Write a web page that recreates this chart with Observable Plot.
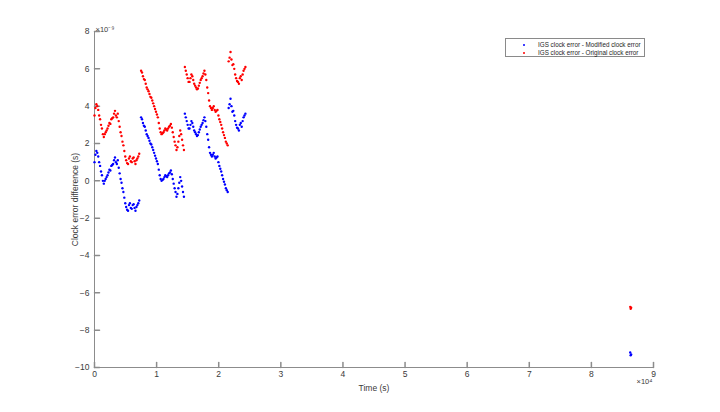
<!DOCTYPE html>
<html>
<head>
<meta charset="utf-8">
<script src="https://cdn.jsdelivr.net/npm/d3@7"></script>
<script src="https://cdn.jsdelivr.net/npm/@observablehq/plot@0.6"></script>
<style>
  html, body { margin: 0; padding: 0; background: #fff; }
  #wrap { position: relative; width: 720px; height: 412px; font-family: "Liberation Sans", Arial, sans-serif; }
  #legend { position: absolute; left: 505px; top: 38px; width: 140px; height: 19px; border: 1px solid #8a8a8a; background: #fff; font-size: 6.3px; color: #262626; box-sizing: border-box; }
  .row { position: absolute; left: 0; height: 8px; line-height: 8px; white-space: nowrap; }
  .dot { position: absolute; left: 17px; top: 3px; width: 2px; height: 2px; border-radius: 1px; }
  .lbl { position: absolute; left: 32px; top: 0; }
</style>
</head>
<body>
<div id="wrap">
  <div id="chart"></div>
  <div id="legend"></div>
</div>
<script>
// Epoch times (s)
const times = [
  0,150,300,450,600,750,900,1050,1200,1350,1500,1650,1800,1950,2100,2250,2400,2550,2700,2850,3000,3150,3300,3450,3600,3750,3900,4050,4200,4350,4500,4650,4800,4950,5100,5250,5400,5550,5700,5850,6000,6150,6300,6450,6600,6750,6900,7050,7200,
  7500,7650,7800,7950,8100,8250,8400,8550,8700,8850,9000,9150,9300,9450,9600,9750,9900,10050,10200,10350,10500,10650,10800,10950,11100,11250,11400,11550,11700,11850,12000,12150,12300,12450,12600,12750,12900,13050,13200,13350,13500,13650,13800,13950,14100,14250,14400,
  14550,14700,14850,15000,15150,15300,15450,15600,15750,15900,16050,16200,16350,16500,16650,16800,16950,17100,17250,17400,17550,17700,17850,18000,18150,18300,18450,18600,18750,18900,19050,19200,19350,19500,19650,19800,19950,20100,20250,20400,20550,20700,20850,21000,21150,21300,21450,
  21600,21750,21900,22050,22200,22350,22500,22650,22800,22950,23100,23250,23400,23550,23700,23850,24000,24150,24300,
  86250,86325,86400
];
// IGS clock error - Modified clock error (x1e-9 s)
const modifiedDiff = [
  1.0,1.4,1.6,1.5,1.3,1.0,0.8,0.5,0.3,0.0,-0.15,0.0,0.1,0.2,0.3,0.45,0.6,0.55,0.8,0.85,0.9,1.1,1.25,1.0,0.9,1.1,0.7,0.4,0.1,-0.1,-0.4,-0.6,-0.9,-1.2,-1.4,-1.55,-1.6,-1.3,-1.2,-1.45,-1.5,-1.3,-1.25,-1.45,-1.6,-1.4,-1.3,-1.2,-1.05,
  3.4,3.3,3.1,2.95,2.9,2.7,2.5,2.4,2.3,2.15,2.0,1.95,1.8,1.65,1.5,1.35,1.2,1.05,0.9,0.6,0.3,0.1,0.0,0.05,0.1,0.2,0.3,0.25,0.2,0.3,0.4,0.45,0.55,0.35,0.1,-0.15,-0.4,-0.6,-0.85,-0.7,-0.4,-0.1,0.2,0.0,-0.3,-0.6,-0.85,
  3.6,3.4,3.2,3.0,2.8,2.8,3.0,3.2,3.1,2.9,2.7,2.6,2.5,2.4,2.45,2.6,2.75,2.9,3.0,3.1,3.25,3.4,3.2,2.9,2.5,2.2,1.8,1.5,1.4,1.3,1.4,1.5,1.3,1.2,1.25,1.3,1.0,0.8,0.65,0.5,0.3,0.1,-0.05,-0.2,-0.4,-0.5,-0.6,
  3.9,4.1,4.4,4.0,3.7,3.75,3.5,3.2,3.0,2.85,2.8,2.7,3.0,3.1,2.9,3.2,3.4,3.5,3.6,
  -9.2,-9.35,-9.3
];
// IGS clock error - Original clock error (x1e-9 s)
const originalDiff = [
  3.5,3.9,4.1,4.0,3.8,3.5,3.3,3.0,2.8,2.5,2.35,2.5,2.6,2.7,2.8,2.95,3.1,3.05,3.3,3.35,3.4,3.6,3.75,3.5,3.4,3.6,3.2,2.9,2.6,2.4,2.1,1.9,1.6,1.3,1.1,0.95,0.9,1.2,1.3,1.05,1.0,1.2,1.25,1.05,0.9,1.1,1.2,1.3,1.45,
  5.9,5.8,5.6,5.45,5.4,5.2,5.0,4.9,4.8,4.65,4.5,4.45,4.3,4.15,4.0,3.85,3.7,3.55,3.4,3.1,2.8,2.6,2.5,2.55,2.6,2.7,2.8,2.75,2.7,2.8,2.9,2.95,3.05,2.85,2.6,2.35,2.1,1.9,1.65,1.8,2.1,2.4,2.7,2.5,2.2,1.9,1.65,
  6.1,5.9,5.7,5.5,5.3,5.3,5.5,5.7,5.6,5.4,5.2,5.1,5.0,4.9,4.95,5.1,5.25,5.4,5.5,5.6,5.75,5.9,5.7,5.4,5.0,4.7,4.3,4.0,3.9,3.8,3.9,4.0,3.8,3.7,3.75,3.8,3.5,3.3,3.15,3.0,2.8,2.6,2.45,2.3,2.1,2.0,1.9,
  6.4,6.6,6.9,6.5,6.2,6.25,6.0,5.7,5.5,5.35,5.3,5.2,5.5,5.6,5.4,5.7,5.9,6.0,6.1,
  -6.75,-6.85,-6.8
];
const seriesNames = ["IGS clock error - Modified clock error", "IGS clock error - Original clock error"];
const seriesColors = ["#0000ff", "#ff0000"];
const xTicks = [0,10000,20000,30000,40000,50000,60000,70000,80000,90000];
const xTickLabels = ["0","1","2","3","4","5","6","7","8","9"];
const yTicks = [-10,-8,-6,-4,-2,0,2,4,6,8];

const data = [];
times.forEach((t, i) => {
  data.push({t, v: modifiedDiff[i], s: seriesNames[0]});
  data.push({t, v: originalDiff[i], s: seriesNames[1]});
});

const axisColor = "#8c8c8c";
const textColor = "#3a3a3a";
const tickShape = {draw(c, l) { c.moveTo(0, 0); c.lineTo(0, -l); }};

const chart = Plot.plot({
  width: 720,
  height: 412,
  marginLeft: 94,
  marginRight: 67,
  marginTop: 31,
  marginBottom: 45,
  style: {fontFamily: "Liberation Sans, Arial, sans-serif", fontSize: "8.5px", color: textColor, background: "#fff"},
  x: {domain: [0, 90000]},
  y: {domain: [-10, 8]},
  color: {domain: seriesNames, range: seriesColors},
  marks: [
    Plot.ruleX([0], {stroke: axisColor}),
    Plot.ruleY([-10], {stroke: axisColor}),
    Plot.vector(xTicks, {x: d => d, frameAnchor: "bottom", length: 5, anchor: "start", rotate: 0, stroke: axisColor, shape: tickShape}),
    Plot.vector(yTicks, {y: d => d, frameAnchor: "left", length: 5, anchor: "start", rotate: 90, stroke: axisColor, shape: tickShape}),
    Plot.axisX({ticks: xTicks, tickFormat: (d, i) => xTickLabels[i], tickSize: 0, tickPadding: 3, label: "Time (s)", labelAnchor: "center", labelArrow: "none", labelOffset: 23, fill: textColor}),
    Plot.axisY({ticks: yTicks, tickSize: 0, tickPadding: 5, label: "Clock error difference (s)", labelAnchor: "center", labelArrow: "none", labelOffset: 23, fill: textColor}),
    Plot.dot(data, {x: "t", y: "v", fill: "s", r: 1.2, stroke: null}),
    Plot.text(["\u00d710\u207b\u2079"], {frameAnchor: "top-left", dx: 1, dy: -5, textAnchor: "start", fontSize: 7.5, fill: textColor}),
    Plot.text(["\u00d710\u2074"], {frameAnchor: "bottom-right", dx: -17, dy: 16, textAnchor: "start", fontSize: 7.5, fill: textColor})
  ]
});
document.getElementById("chart").appendChild(chart);

const legend = document.getElementById("legend");
seriesNames.forEach((name, i) => {
  const row = document.createElement("div");
  row.className = "row";
  row.style.top = (1.5 + i * 8) + "px";
  const dot = document.createElement("span");
  dot.className = "dot";
  dot.style.background = seriesColors[i];
  const lbl = document.createElement("span");
  lbl.className = "lbl";
  lbl.textContent = name;
  row.appendChild(dot);
  row.appendChild(lbl);
  legend.appendChild(row);
});
</script>
</body>
</html>
